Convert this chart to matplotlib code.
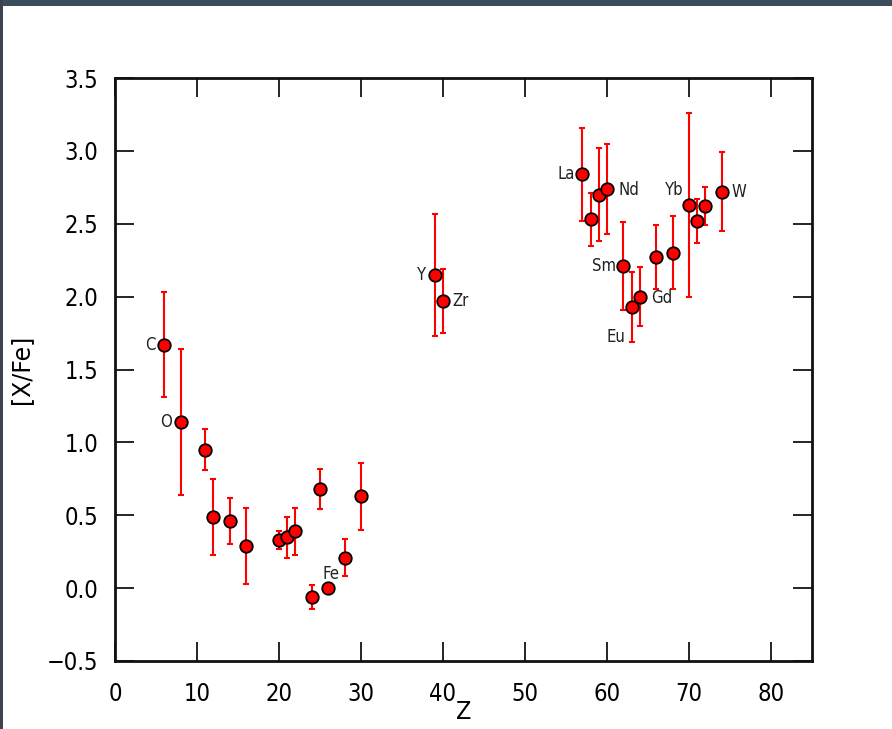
import matplotlib
matplotlib.use("Agg")
import matplotlib.pyplot as plt
from matplotlib.patches import Rectangle

# ---- data ----
Z = [6, 8, 11, 12, 14, 16, 20, 21, 22, 24, 25, 26, 28, 30, 39, 40,
     57, 58, 59, 60, 62, 63, 64, 66, 68, 70, 71, 72, 74]
XFe = [1.67, 1.14, 0.95, 0.49, 0.46, 0.29, 0.33, 0.35, 0.39, -0.06, 0.68, 0.00, 0.21, 0.63,
       2.15, 1.97, 2.84, 2.53, 2.70, 2.74, 2.21, 1.93, 2.00, 2.27, 2.30, 2.63, 2.52, 2.62, 2.72]
err = [0.36, 0.50, 0.14, 0.26, 0.16, 0.26, 0.06, 0.14, 0.16, 0.08, 0.14, 0.0, 0.13, 0.23,
       0.42, 0.22, 0.32, 0.18, 0.32, 0.31, 0.30, 0.24, 0.20, 0.22, 0.25, 0.63, 0.15, 0.13, 0.27]

label_text = ["C", "O", "Fe", "Y", "Zr", "La", "Nd", "Sm", "Eu", "Gd", "Yb", "W"]
label_x = [5.0, 6.9, 26.3, 38.0, 41.1, 56.1, 61.4, 61.1, 62.2, 65.4, 69.3, 75.2]
label_y = [1.67, 1.14, 0.10, 2.15, 1.97, 2.84, 2.73, 2.21, 1.72, 1.99, 2.73, 2.72]
label_ha = ["right", "right", "center", "right", "left", "right", "left", "right",
            "right", "left", "right", "left"]

xticks = [0, 10, 20, 30, 40, 50, 60, 70, 80]
yticks = [-0.5, 0.0, 0.5, 1.0, 1.5, 2.0, 2.5, 3.0, 3.5]

plt.rcParams['font.family'] = ['DejaVu Sans Condensed', 'DejaVu Sans']
plt.rcParams['font.stretch'] = 'condensed'

fig = plt.figure(figsize=(8.92, 7.29), dpi=100)
fig.patch.set_facecolor('white')
# dark frame bands at top and left of the screenshot
fig.patches.append(Rectangle((0, 1 - 6 / 729), 1, 6 / 729, transform=fig.transFigure,
                             facecolor='#3b4d5b', edgecolor='none', zorder=10))
fig.patches.append(Rectangle((0, 0), 3 / 892, 1, transform=fig.transFigure,
                             facecolor='#3b4450', edgecolor='none', zorder=10))

ax = fig.add_axes([115 / 892, 1 - 661 / 729, (812 - 115) / 892, (661 - 78) / 729])

for z, v, e in zip(Z, XFe, err):
    if e > 0:
        ax.errorbar([z], [v], yerr=[e], fmt='none', ecolor='red', elinewidth=1.5,
                    capsize=2.2, capthick=1.5, zorder=2)
ax.plot(Z, XFe, linestyle='none', marker='o', markersize=9, markerfacecolor='red',
        markeredgecolor='black', markeredgewidth=1.3, zorder=3)

for t, x, y, ha in zip(label_text, label_x, label_y, label_ha):
    ax.text(x, y, t, ha=ha, va='center', fontsize=12, color='#222222')

ax.set_xlim(0, 85)
ax.set_ylim(-0.5, 3.5)
ax.set_xticks(xticks)
ax.set_yticks(yticks)
ax.set_xticklabels([str(v) for v in xticks])
ax.set_yticklabels([("\u2212" if v < 0 else "") + f"{abs(v):.1f}" for v in yticks])
ax.tick_params(direction='in', length=14, width=1.2, top=True, right=True,
               labelsize=17, pad=12, colors='black')
ax.tick_params(axis='x', pad=15)
for s in ax.spines.values():
    s.set_linewidth(2.0)
    s.set_color('#111111')

ax.set_xlabel('Z', fontsize=18, labelpad=-4)
ax.set_ylabel('[X/Fe]', fontsize=17, labelpad=10, family='DejaVu Sans',
              fontstretch='normal')

fig.savefig('out.png', dpi=100)
